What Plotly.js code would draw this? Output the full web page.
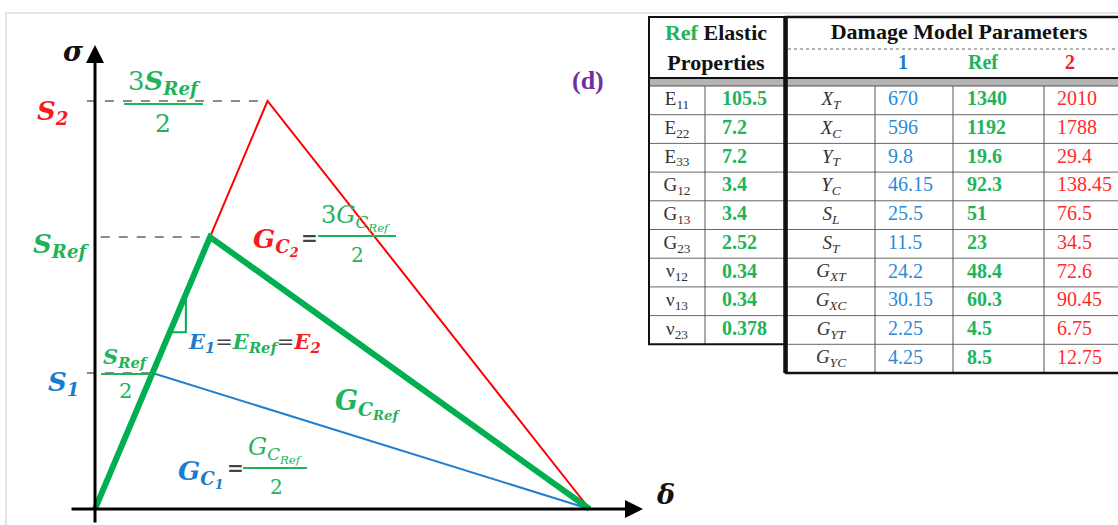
<!DOCTYPE html>
<html>
<head>
<meta charset="utf-8">
<script src="https://cdn.plot.ly/plotly-3.0.1.min.js"></script>
<style>
  html, body { margin: 0; padding: 0; background: #fff; }
  #chart { width: 1118px; height: 525px; }
</style>
</head>
<body>
<div id="chart"></div>
<script>
// bilinear traction-separation laws: stress in units of S_Ref, separation in units of delta0_Ref
const lawNames = ['1', 'Ref', '2'];
const peakStress = [0.5, 1, 1.5];
const peakSep = [0.5, 1, 1.5];
const finalSep = 4.3;

// Ref elastic properties
const elasticNames = ['E<sub>11</sub>', 'E<sub>22</sub>', 'E<sub>33</sub>', 'G<sub>12</sub>', 'G<sub>13</sub>',
  'G<sub>23</sub>', 'ν<sub>12</sub>', 'ν<sub>13</sub>', 'ν<sub>23</sub>'];
const elasticRef = ['105.5', '7.2', '7.2', '3.4', '3.4', '2.52', '0.34', '0.34', '0.378'];

// damage model parameters
const damageNames = ['X<sub>T</sub>', 'X<sub>C</sub>', 'Y<sub>T</sub>', 'Y<sub>C</sub>', 'S<sub>L</sub>',
  'S<sub>T</sub>', 'G<sub>XT</sub>', 'G<sub>XC</sub>', 'G<sub>YT</sub>', 'G<sub>YC</sub>'];
const damage1 = ['670', '596', '9.8', '46.15', '25.5', '11.5', '24.2', '30.15', '2.25', '4.25'];
const damageRef = ['1340', '1192', '19.6', '92.3', '51', '23', '48.4', '60.3', '4.5', '8.5'];
const damage2 = ['2010', '1788', '29.4', '138.45', '76.5', '34.5', '72.6', '90.45', '6.75', '12.75'];

const W = 1118, H = 525;
const px = x => x / W, py = y => 1 - y / H;

const GREEN = '#00b050', BLUE = '#1f7fd0', RED = '#ff0000';
const T_GREEN = '#1fb35a', T_BLUE = '#1a7ccc', T_RED = '#f41c1c', T_GRAY = '#444';
const lawColors = [BLUE, GREEN, RED];
const lawWidths = [2, 6, 2];
const MATH = 'DejaVu Serif';
const SERIF = 'Liberation Serif';

// --- curves (x / y) ---
const traces = [];
[0, 2, 1].forEach(i => {
    traces.push({
        x: [0, peakSep[i], finalSep], y: [0, peakStress[i], 0],
        mode: 'lines', name: lawNames[i], hoverinfo: 'skip',
        line: { color: lawColors[i], width: lawWidths[i] }
    });
});
// dashed guides to the stress axis
const guideStart = [-0.07, 0.05, -0.07];
peakStress.forEach((s, i) => {
    traces.push({
        x: [guideStart[i], peakSep[i]], y: [s, s], mode: 'lines', hoverinfo: 'skip',
        line: { color: '#666', width: 1.5, dash: 'dash' }
    });
});
// slope mark on the elastic branch
traces.push({
    x: [0.65, 0.79, 0.79], y: [0.65, 0.65, 0.79], mode: 'lines', hoverinfo: 'skip',
    line: { color: GREEN, width: 2 }
});

// --- tables (x2 / y2, pixel-like units, y downwards) ---
const rowTop = 86, rowH = 28.7;
const rowY = n => Array.from({ length: n }, (_, i) => rowTop + (i + 0.5) * rowH);
const leftEdges = [649, 705, 785];
const rightEdges = [787, 875, 953, 1044, 1125];
const textCol = (x, y, text, color, pos, size) => ({
    x: Array.isArray(x) ? x : y.map(() => x), y: y, text: text, mode: 'text',
    textposition: pos || 'middle center', hoverinfo: 'skip', xaxis: 'x2', yaxis: 'y2',
    textfont: { family: SERIF, size: size || 20, color: color }
});
const yl = rowY(elasticNames.length), yr = rowY(damageNames.length);
traces.push(textCol((leftEdges[0] + leftEdges[1]) / 2, yl, elasticNames, '#333', null, 19));
traces.push(textCol(leftEdges[1] + 17, yl, elasticRef.map(v => '<b>' + v + '</b>'), T_GREEN, 'middle right'));
traces.push(textCol((rightEdges[0] + rightEdges[1]) / 2, yr, damageNames.map(v => '<i>' + v + '</i>'), '#333', null, 19));
traces.push(textCol(rightEdges[1] + 13, yr, damage1, '#2b8ad6', 'middle right'));
traces.push(textCol(rightEdges[2] + 14, yr, damageRef.map(v => '<b>' + v + '</b>'), T_GREEN, 'middle right'));
traces.push(textCol(rightEdges[3] + 13, yr, damage2, '#ff2a2a', 'middle right'));
// headers
traces.push(textCol([716, 716, 959], [34, 64, 33],
    ['<b><span style="color:' + T_GREEN + '">Ref</span> Elastic</b>', '<b>Properties</b>',
     '<b>Damage Model Parameters</b>'], '#111', null, 22));
traces.push(Object.assign(textCol([903, 983, 1070], [64, 64, 64],
    ['<b>1</b>', '<b>Ref</b>', '<b>2</b>'], '#111', null, 20),
    { textfont: { family: SERIF, size: 20, color: [T_BLUE, T_GREEN, T_RED] } }));

// --- shapes ---
const shapes = [];
const pline = (x0, y0, x1, y1, color, width, dash) => ({
    type: 'line', xref: 'paper', yref: 'paper', x0: px(x0), y0: py(y0), x1: px(x1), y1: py(y1),
    line: { color: color, width: width, dash: dash || 'solid' }
});
const tline = (x0, y0, x1, y1, color, width) => ({
    type: 'line', xref: 'x2', yref: 'y2', x0: x0, y0: y0, x1: x1, y1: y1,
    line: { color: color, width: width }
});
// table grid
const leftBottom = rowTop + elasticNames.length * rowH;
const rightBottom = rowTop + damageNames.length * rowH;
for (let i = 1; i < elasticNames.length; i++) {
    shapes.push(tline(leftEdges[0], rowTop + i * rowH, leftEdges[2], rowTop + i * rowH, '#666', 1));
}
for (let i = 1; i < damageNames.length; i++) {
    shapes.push(tline(rightEdges[0], rowTop + i * rowH, rightEdges[4], rowTop + i * rowH, '#666', 1));
}
shapes.push(tline(leftEdges[1], rowTop, leftEdges[1], leftBottom, '#555', 1));
rightEdges.slice(1, 4).forEach(x => shapes.push(tline(x, rowTop, x, rightBottom, '#555', 1)));
// frame and header separators
shapes.push({ type: 'rect', xref: 'paper', yref: 'paper', x0: px(6), y0: py(13), x1: px(1140), y1: py(540),
    line: { color: '#e4e4e4', width: 2 } });
shapes.push({ type: 'rect', xref: 'paper', yref: 'paper', x0: px(648), y0: py(79), x1: px(1130), y1: py(86),
    fillcolor: '#b4b4b4', line: { width: 0 } });
shapes.push(pline(648, 86, 1130, 86, '#555', 1));
shapes.push({ type: 'rect', xref: 'paper', yref: 'paper', x0: px(649), y0: py(17), x1: px(785), y1: py(leftBottom),
    line: { color: '#111', width: 2 } });
shapes.push({ type: 'rect', xref: 'paper', yref: 'paper', x0: px(786), y0: py(17), x1: px(1140), y1: py(rightBottom),
    line: { color: '#111', width: 2.5 } });
shapes.push(pline(785.5, 17, 785.5, rightBottom, '#111', 4.5));
shapes.push(pline(648, 78, 1130, 78, '#111', 2));
shapes.push(pline(788, 49, 1130, 49, '#666', 1, 'dot'));
// fraction bars
shapes.push(pline(124, 104, 203, 104, T_GREEN, 2));
shapes.push(pline(101, 374, 152, 374, T_GREEN, 2));
shapes.push(pline(318, 236, 396, 236, T_GREEN, 2));
shapes.push(pline(243, 468, 307, 468, T_GREEN, 2));

// --- labels ---
const lab = (x, y, text, color, size, extra) => Object.assign({
    xref: 'paper', yref: 'paper', x: px(x), y: py(y), text: text, showarrow: false,
    xanchor: 'center', yanchor: 'middle', font: { family: MATH, size: size, color: color }
}, extra || {});
const bi = s => '<b><i>' + s + '</i></b>';
const annotations = [
    // axes with arrow heads
    { x: 0, y: 1.706, ax: 0, ay: -0.055, xref: 'x', yref: 'y', axref: 'x', ayref: 'y', text: '',
      showarrow: true, arrowhead: 2, arrowsize: 1.2, arrowwidth: 3, arrowcolor: '#000' },
    { x: 4.765, y: 0, ax: -0.217, ay: 0, xref: 'x', yref: 'y', axref: 'x', ayref: 'y', text: '',
      showarrow: true, arrowhead: 2, arrowsize: 1.2, arrowwidth: 3, arrowcolor: '#000' },
    lab(73, 51, bi('σ'), '#111', 27),
    lab(665, 494, bi('δ'), '#111', 27),
    lab(588, 80, '<b>(d)</b>', '#7030a0', 26, { font: { family: SERIF, size: 26, color: '#7030a0' } }),
    // stress levels
    lab(52, 112, bi('S<sub>2</sub>'), T_RED, 26),
    lab(61, 245, bi('S<sub>Ref</sub>'), T_GREEN, 26),
    lab(63, 383, bi('S<sub>1</sub>'), T_BLUE, 26),
    // 3 S_Ref / 2
    lab(164, 83, '3' + bi('S<sub>Ref</sub>'), T_GREEN, 26),
    lab(163, 123, '2', T_GREEN, 25),
    // S_Ref / 2
    lab(126, 357, bi('S<sub>Ref</sub>'), T_GREEN, 21),
    lab(125, 391, '2', T_GREEN, 21),
    // moduli
    lab(254, 342, '<span style="color:' + T_BLUE + '">' + bi('E<sub>1</sub>') + '</span>=' +
        '<span style="color:' + T_GREEN + '">' + bi('E<sub>Ref</sub>') + '</span>=' +
        '<span style="color:' + T_RED + '">' + bi('E<sub>2</sub>') + '</span>', T_GRAY, 21),
    // G_C2 = 3 G_CRef / 2
    lab(276, 242, bi('G<sub>C<sub>2</sub></sub>'), T_RED, 26),
    lab(309, 238, '<b>=</b>', T_GRAY, 20),
    lab(356, 218, '3<i>G<sub>C<sub>Ref</sub></sub></i>', T_GREEN, 24),
    lab(357, 255, '2', T_GREEN, 20),
    // G_CRef
    lab(368, 404, bi('G<sub>C<sub>Ref</sub></sub>'), T_GREEN, 27),
    // G_C1 = G_CRef / 2
    lab(201, 474, bi('G<sub>C<sub>1</sub></sub>'), T_BLUE, 26),
    lab(235, 468, '<b>=</b>', T_GRAY, 20),
    lab(275, 450, '<i>G<sub>C<sub>Ref</sub></sub></i>', T_GREEN, 24),
    lab(276, 487, '2', T_GREEN, 20)
];

const layout = {
    width: W, height: H, margin: { l: 0, r: 0, t: 0, b: 0 },
    paper_bgcolor: '#fff', plot_bgcolor: 'rgba(0,0,0,0)', showlegend: false,
    xaxis: { domain: [0, px(645)], range: [-95 / 115, 550 / 115], visible: false, fixedrange: true },
    yaxis: { domain: [0, 1], range: [-16 / 272, 509 / 272], visible: false, fixedrange: true },
    xaxis2: { domain: [px(640), 1], range: [640, W], anchor: 'y2', visible: false, fixedrange: true },
    yaxis2: { domain: [0, 1], range: [H, 0], anchor: 'x2', visible: false, fixedrange: true },
    shapes: shapes, annotations: annotations
};

Plotly.newPlot('chart', traces, layout, { displayModeBar: false, staticPlot: true });
</script>
</body>
</html>
